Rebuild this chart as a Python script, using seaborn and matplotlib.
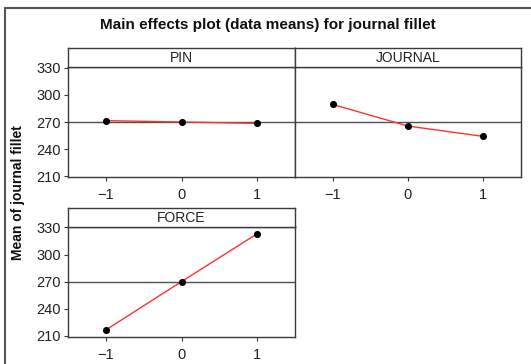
import matplotlib
matplotlib.use("Agg")
import matplotlib.pyplot as plt
from matplotlib.lines import Line2D
from matplotlib import font_manager
import seaborn as sns
import pandas as pd

# ---- data ----
levels = [-1, 0, 1]
pin_means = [271.5, 270.0, 268.5]
journal_means = [289.5, 265.5, 254.0]
force_means = [216.5, 270.0, 323.0]
grand_mean = 270.0
factor_names = ["PIN", "JOURNAL", "FORCE"]
y_ticks = [210, 240, 270, 300, 330]
x_ticks = [-1, 0, 1]
title = "Main effects plot (data means) for journal fillet"
ylabel = "Mean of journal fillet"

sns.set_style("white")

def pick_font(names):
    for n in names:
        try:
            font_manager.findfont(n, fallback_to_default=False)
            return n
        except Exception:
            pass
    return "DejaVu Sans"

narrow = pick_font(["Liberation Sans Narrow", "Liberation Sans", "Arial"])
regular = pick_font(["Liberation Sans", "Arial"])
plt.rcParams["font.family"] = [regular, "DejaVu Sans"]

W, H = 531, 364
fig = plt.figure(figsize=(W / 100, H / 100), dpi=100)

def rect(x0, y0, x1, y1):
    return [x0 / W, 1 - y1 / H, (x1 - x0) / W, (y1 - y0) / H]

edge = "#3a3a3a"

# outer frame (left and top edges visible)
fig.add_artist(Line2D([5 / W, 5 / W], [0, 1 - 8 / H], transform=fig.transFigure,
                      color="#555555", lw=1.5))
fig.add_artist(Line2D([5 / W, 1], [1 - 8 / H, 1 - 8 / H], transform=fig.transFigure,
                      color="#555555", lw=1.5))

panels = [
    ("PIN", pin_means, (68, 67, 295, 177), (68, 48, 295, 67), True),
    ("JOURNAL", journal_means, (295, 67, 521, 177), (295, 48, 521, 67), False),
    ("FORCE", force_means, (68, 226.5, 295, 336.7), (68, 208, 295, 226.5), True),
]

for name, means, prect, hrect, show_y in panels:
    ax = fig.add_axes(rect(*prect))
    df = pd.DataFrame({"level": levels, "mean": means})
    ax.axhline(grand_mean, color="#505050", lw=1.0, zorder=1)
    sns.lineplot(data=df, x="level", y="mean", ax=ax, color="#ff3030", lw=1.0,
                 zorder=2, legend=False)
    sns.scatterplot(data=df, x="level", y="mean", ax=ax, color="black", s=26,
                    edgecolor="black", linewidth=0, zorder=3, legend=False)
    ax.set_xlim(-1.5, 1.5)
    ax.set_ylim(209, 331)
    ax.set_xticks(x_ticks)
    ax.set_xticklabels(["\u2212" + "1", "0", "1"])
    ax.set_yticks(y_ticks)
    ax.set_xlabel("")
    ax.set_ylabel("")
    for s in ax.spines.values():
        s.set_color(edge)
        s.set_linewidth(1.0)
    ax.tick_params(axis="x", direction="out", length=3, width=0.8, color=edge,
                   labelsize=10.5, pad=5, bottom=True)
    if show_y:
        ax.tick_params(axis="y", direction="out", length=3, width=0.8, color=edge,
                       labelsize=10.5, pad=2, left=True)
    else:
        ax.tick_params(axis="y", left=False, labelleft=False)
    for lab in ax.get_xticklabels() + ax.get_yticklabels():
        lab.set_fontfamily([regular, "DejaVu Sans"])
        lab.set_color("#222222")

    hax = fig.add_axes(rect(*hrect))
    hax.set_xticks([])
    hax.set_yticks([])
    for s in hax.spines.values():
        s.set_color(edge)
        s.set_linewidth(1.0)
    hax.text(0.5, 0.45, name, ha="center", va="center", fontsize=10,
             family=[narrow, "DejaVu Sans"], color="#222222", transform=hax.transAxes)

fig.text(268 / W, 1 - 25 / H, title, ha="center", va="center", fontsize=11,
         fontweight="bold", color="#111111")
fig.text(18 / W, 1 - 193 / H, ylabel, ha="center", va="center", rotation=90,
         fontsize=10, fontweight="bold", color="#111111")

fig.savefig("out.png", dpi=100, facecolor="white")
